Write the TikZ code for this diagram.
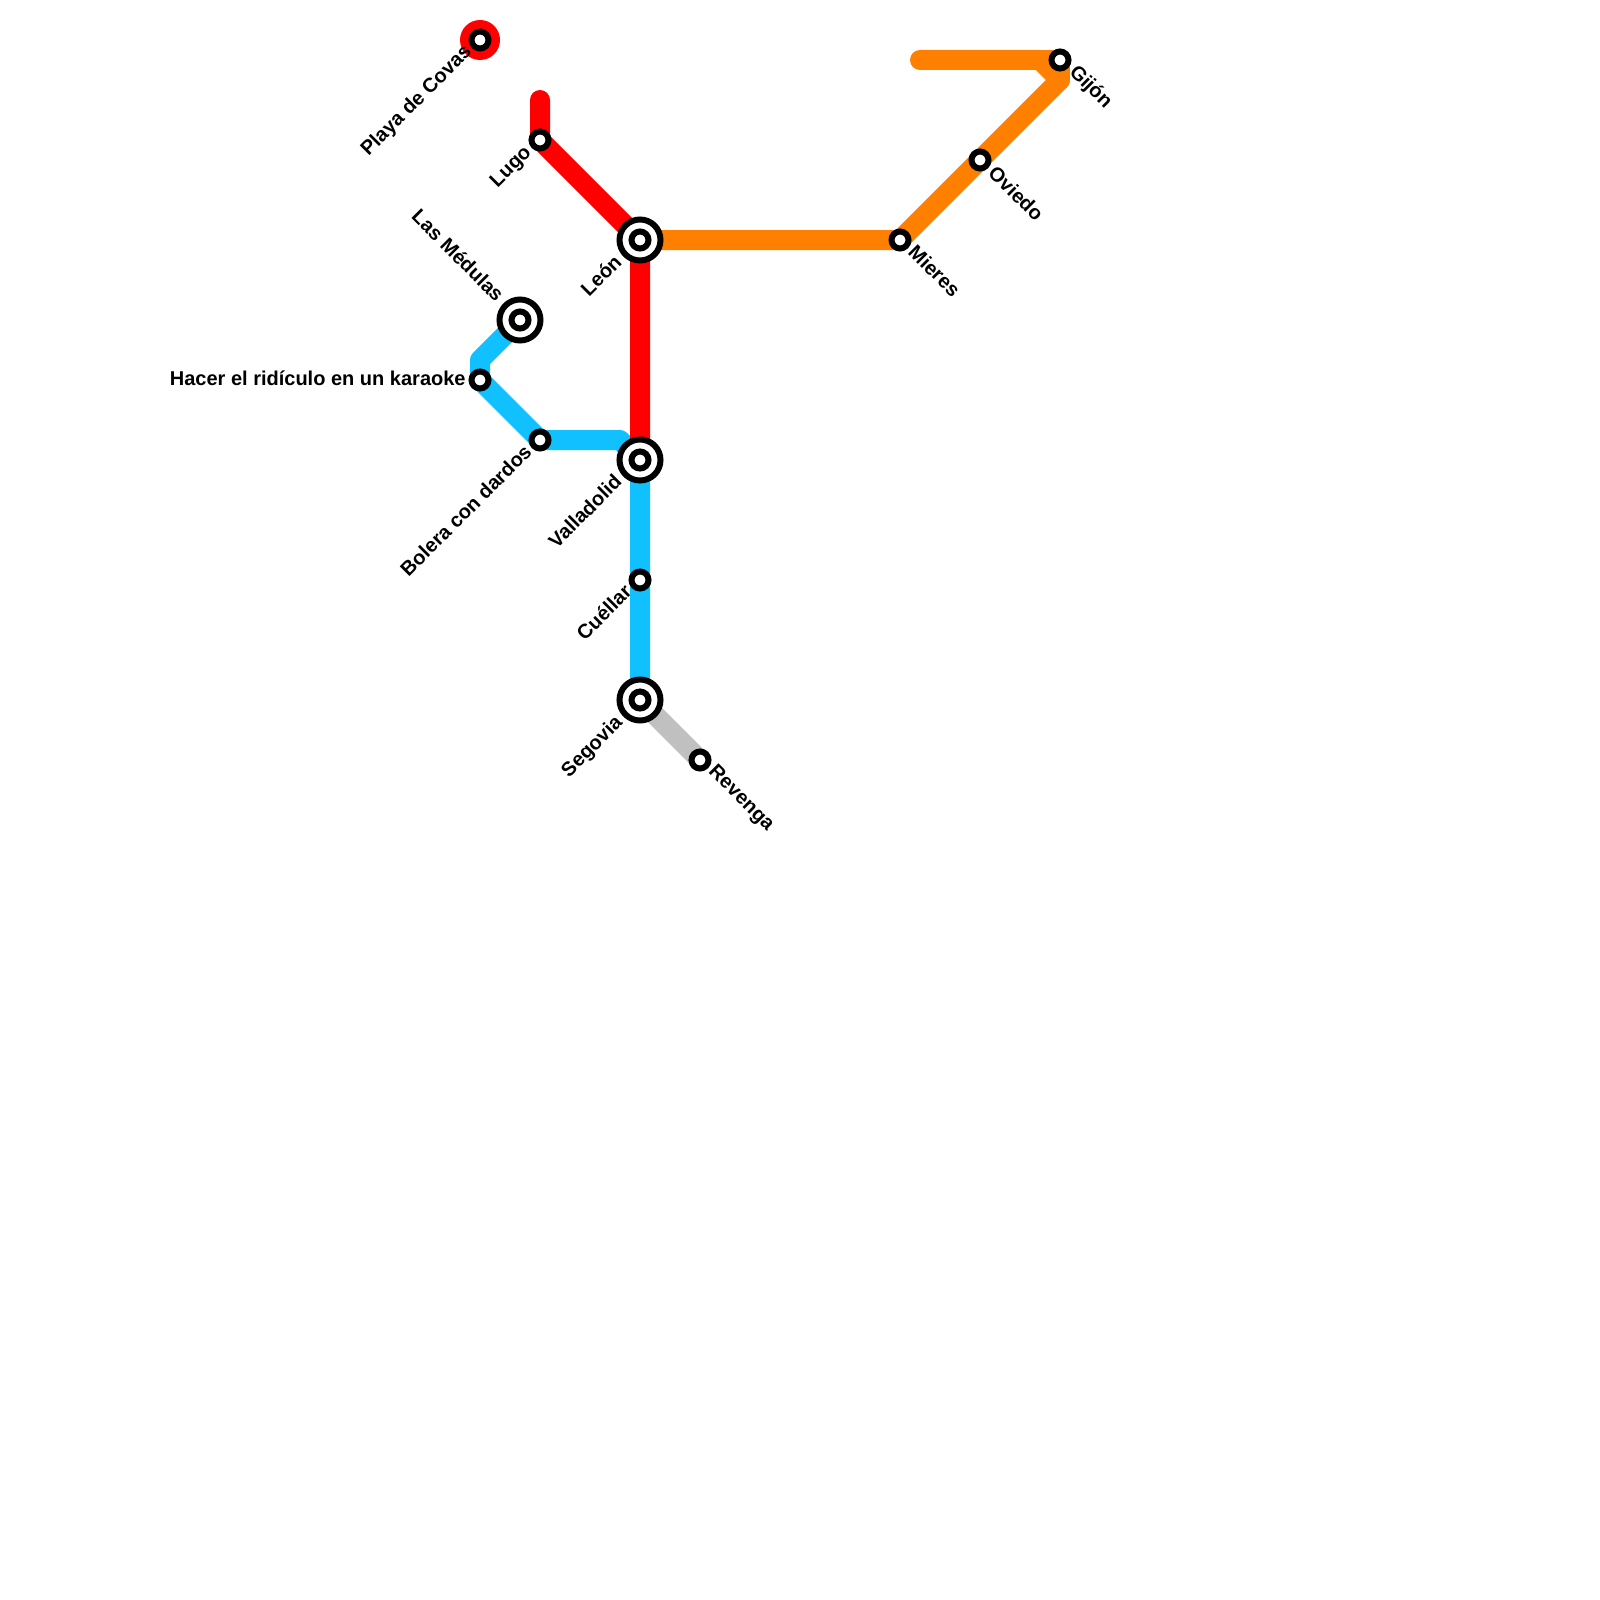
\documentclass[tikz,border=0pt]{standalone}
\usepackage{fontspec}
\setmainfont{Liberation Sans}
\pgfdeclarelayer{lines}
\pgfsetlayers{lines,main}
\definecolor{redline}{RGB}{255,0,0}
\definecolor{orangeline}{RGB}{255,128,0}
\definecolor{blueline}{RGB}{16,192,255}
\definecolor{greyline}{RGB}{192,192,192}
\tikzset{
  x=0.5pt,y=-0.5pt,
  route/.style={line width=10pt,line cap=round,line join=round},
  halt/.style={circle,draw=black,fill=white,line width=3pt,minimum size=8.5pt,inner sep=0pt,outer sep=0pt},
  hub/.style={circle,draw=black,fill=white,line width=3pt,minimum size=20.5pt,inner sep=0pt,outer sep=0pt,label={[halt]center:{}}},
  lab/.style={font=\bfseries\fontsize{10}{12}\selectfont,inner sep=0pt,text=black},
  labdl/.style={lab,anchor=east,rotate=45},
  labdr/.style={lab,anchor=west,rotate=-45},
  labul/.style={lab,anchor=east,rotate=-45},
  labl/.style={lab,anchor=east},
}
\begin{document}
\begin{tikzpicture}
\useasboundingbox (0,0) rectangle (1600,1600);
% stations
\node[circle,fill=redline,minimum size=20pt,inner sep=0pt] (playaring) at (480,40) {};
\node[halt] (playa) at (480,40) {};
\node[halt] (lugo) at (540,140) {};
\node[hub] (leon) at (640,240) {};
\node[hub] (medulas) at (520,320) {};
\node[halt] (hacer) at (480,380) {};
\node[halt] (bolera) at (540,440) {};
\node[hub] (valladolid) at (640,460) {};
\node[halt] (cuellar) at (640,580) {};
\node[hub] (segovia) at (640,700) {};
\node[halt] (revenga) at (700,760) {};
\node[halt] (mieres) at (900,240) {};
\node[halt] (oviedo) at (980,160) {};
\node[halt] (gijon) at (1060,60) {};
% free ends and bends
\coordinate (redstart) at (540,100);
\coordinate (orangestart) at (920,60);
\coordinate (orangebendA) at (1040,60);
\coordinate (orangebendB) at (1060,80);
\coordinate (bluebendA) at (480,360);
\coordinate (bluebendB) at (620,440);
\begin{pgfonlayer}{lines}
\draw[route,greyline] (segovia.center) -- (revenga.center);
\draw[route,blueline] (medulas.center) -- (bluebendA) -- (hacer.center) -- (bolera.center) -- (bluebendB) -- (valladolid.center) -- (cuellar.center) -- (segovia.center);
\draw[route,redline] (redstart) -- (lugo.center) -- (leon.center) -- (valladolid.center);
\draw[route,orangeline] (orangebendA) -- (gijon.center) -- (orangebendB);
\draw[route,orangeline] (orangestart) -- (orangebendA) -- (orangebendB) -- (oviedo.center) -- (mieres.center) -- (leon.center);
\end{pgfonlayer}
% labels
\node[labdl] (playaL) at (469,49) {Playa de Covas};
\node[labdl] (lugoL) at (529,150) {Lugo};
\node[labdl] (leonL) at (618,258) {León};
\node[labul] (medulasL) at (501,298) {Las Médulas};
\node[labl] (hacerL) at (466,378) {Hacer el ridículo en un karaoke};
\node[labdl] (boleraL) at (528,448) {Bolera con dardos};
\node[labdl] (valladolidL) at (618,478) {Valladolid};
\node[labdl] (cuellarL) at (628,588) {Cuéllar};
\node[labdl] (segoviaL) at (620,720) {Segovia};
\node[labdr] (revengaL) at (711,769) {Revenga};
\node[labdr] (mieresL) at (912,248) {Mieres};
\node[labdr] (oviedoL) at (992,169) {Oviedo};
\node[labdr] (gijonL) at (1072,69) {Gijón};
\end{tikzpicture}
\end{document}
